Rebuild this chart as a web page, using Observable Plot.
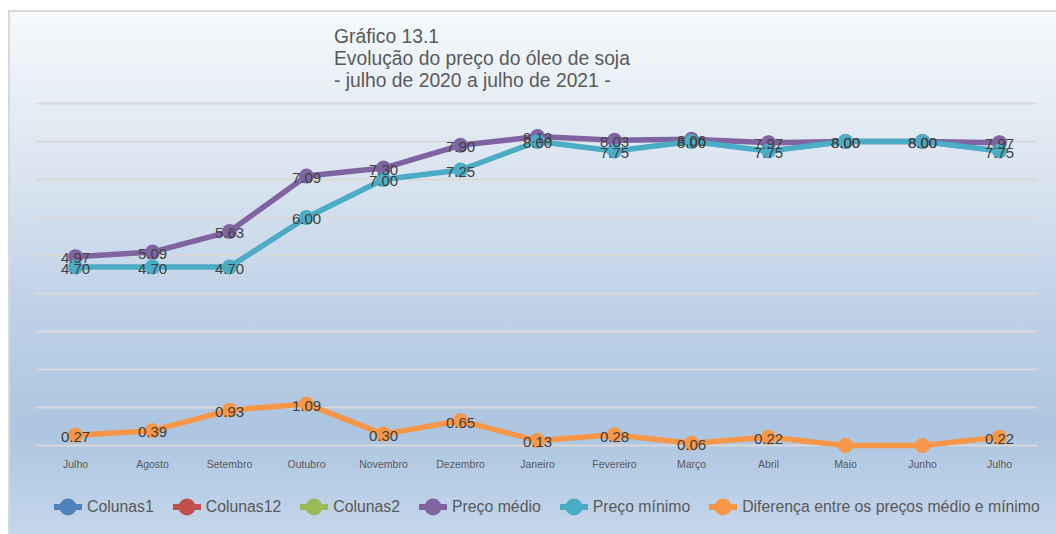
<!DOCTYPE html>
<html>
<head>
<meta charset="utf-8">
<script src="https://cdn.jsdelivr.net/npm/d3@7"></script>
<script src="https://cdn.jsdelivr.net/npm/@observablehq/plot@0.6"></script>
<style>
  html, body { margin: 0; padding: 0; background: #ffffff; width: 1056px; height: 534px; overflow: hidden; }
  body { position: relative; font-family: "Liberation Sans", Arial, sans-serif; }
  #bg { position: absolute; left: 8px; top: 10px; width: 1048px; height: 524px; box-sizing: border-box;
        border-left: 2px solid #d9d9d9; border-top: 2px solid #d9d9d9;
        background: linear-gradient(to bottom, #f5f9fb 0%, #dbe5f0 30%, #bccfe6 60%, #adc5e0 80%, #c4d6eb 100%); }
  #title { position: absolute; left: 334px; top: 26px; font-size: 19.3px; line-height: 22px; color: #595959; white-space: nowrap; }
  #chart { position: absolute; left: 0; top: 0; }
  #legend { position: absolute; left: 54px; top: 497px; display: flex; align-items: center; font-size: 15.8px; color: #595959; white-space: nowrap; }
  .item { display: flex; align-items: center; margin-right: 19px; }
  .item svg { margin-right: 5px; }
</style>
</head>
<body>
<div id="bg"></div>
<div id="title">Gráfico 13.1<br>Evolução do preço do óleo de soja<br>- julho de 2020 a julho de 2021 -</div>
<div id="chart"></div>
<div id="legend"></div>
<script>
const months = ["Julho","Agosto","Setembro","Outubro","Novembro","Dezembro","Janeiro","Fevereiro","Março","Abril","Maio","Junho","Julho"];
const precoMedio  = [4.97, 5.09, 5.63, 7.09, 7.30, 7.90, 8.13, 8.03, 8.06, 7.97, 8.00, 8.00, 7.97];
const precoMinimo = [4.70, 4.70, 4.70, 6.00, 7.00, 7.25, 8.00, 7.75, 8.00, 7.75, 8.00, 8.00, 7.75];
const diferenca   = [0.27, 0.39, 0.93, 1.09, 0.30, 0.65, 0.13, 0.28, 0.06, 0.22, 0.00, 0.00, 0.22];
const gridValues  = [0, 1, 2, 3, 4, 5, 6, 7, 8, 9];

const seriesNames  = ["Colunas1", "Colunas12", "Colunas2", "Preço médio", "Preço mínimo", "Diferença entre os preços médio e mínimo"];
const seriesColors = ["#4f81bd", "#c0504d", "#9bbb59", "#8064a2", "#4bacc6", "#f79646"];

const idx = months.map((_, i) => i);
const rowsMedio = idx.map(i => ({i, v: precoMedio[i]}));
const rowsMin = idx.map(i => ({i, v: precoMinimo[i]}));
const rowsDif = idx.map(i => ({i, v: diferenca[i]}));
const fmt = d3.format(".2f");

const cMedio = seriesColors[3], cMin = seriesColors[4], cDif = seriesColors[5];
const labelStyle = {fontSize: 15, fill: "#404040", dy: 2, text: d => fmt(d.v)};

const plot = Plot.plot({
  width: 1056,
  height: 480,
  marginLeft: 36,
  marginRight: 19,
  marginTop: 103,
  marginBottom: 35,
  style: {background: "transparent", fontFamily: "Liberation Sans, Arial, sans-serif", overflow: "visible"},
  x: {type: "point", domain: idx, padding: 0.5},
  y: {domain: [0, 9], axis: null},
  marks: [
    Plot.ruleY(gridValues, {stroke: "#d9d9d9", strokeWidth: 2}),
    Plot.axisX({tickSize: 0, tickPadding: 15, tickFormat: i => months[i], fontSize: 10.5, fill: "#595959", label: null}),
    Plot.lineY(rowsMedio, {x: "i", y: "v", stroke: cMedio, strokeWidth: 5.5}),
    Plot.dot(rowsMedio, {x: "i", y: "v", fill: cMedio, r: 7.5}),
    Plot.lineY(rowsMin, {x: "i", y: "v", stroke: cMin, strokeWidth: 5.5}),
    Plot.dot(rowsMin, {x: "i", y: "v", fill: cMin, r: 7.5}),
    Plot.lineY(rowsDif, {x: "i", y: "v", stroke: cDif, strokeWidth: 5.5}),
    Plot.dot(rowsDif, {x: "i", y: "v", fill: cDif, r: 7.5}),
    Plot.text(rowsMedio, {x: "i", y: "v", ...labelStyle}),
    Plot.text(rowsMin, {x: "i", y: "v", ...labelStyle}),
    Plot.text(rowsDif.filter(d => d.v > 0), {x: "i", y: "v", ...labelStyle})
  ]
});
document.getElementById("chart").appendChild(plot);

const legend = document.getElementById("legend");
seriesNames.forEach((name, k) => {
  const item = document.createElement("div");
  item.className = "item";
  const c = seriesColors[k];
  item.innerHTML = `<svg width="28" height="20" viewBox="0 0 28 20"><line x1="0" y1="10" x2="28" y2="10" stroke="${c}" stroke-width="6"/><circle cx="14" cy="10" r="8.5" fill="${c}"/></svg><span>${name}</span>`;
  legend.appendChild(item);
});
</script>
</body>
</html>
